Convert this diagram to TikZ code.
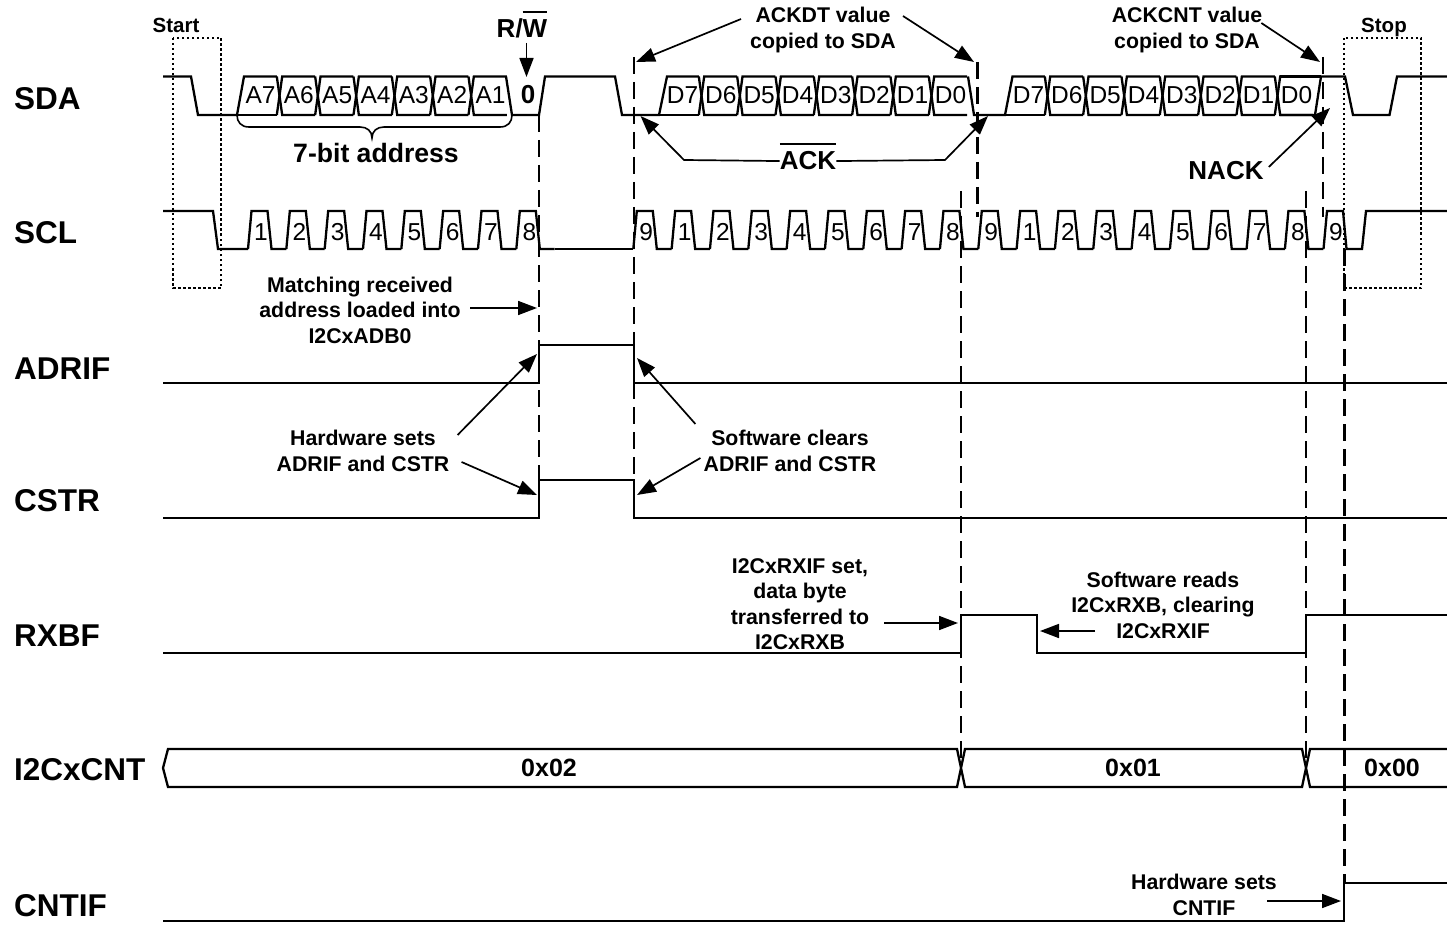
\documentclass[tikz,border=0pt]{standalone}
\usepackage{fontspec}
\setmainfont{Liberation Sans}
\usetikzlibrary{arrows.meta,calc}
\newcommand{\barred}[1]{\setbox0=\hbox{#1}\rlap{\smash{\raise0.97em\hbox{\rule{\wd0}{1.6pt}}}}\box0}

\begin{document}
\begin{tikzpicture}[
    x=1pt,y=-1pt,
    wave/.style={line width=2.3pt,black,line join=miter},
    guide/.style={line width=2.2pt,black,dash pattern=on 17pt off 8pt},
    window/.style={line width=1.6pt,black,dash pattern=on 2.5pt off 2.5pt},
    arrow/.style={-{Triangle[length=19pt,width=14pt]},line width=1.7pt,black},
    signal/.style={font=\fontsize{31.5}{32}\selectfont\bfseries,anchor=west,inner sep=0pt},
    tag/.style={font=\fontsize{20.5}{25.5}\selectfont\bfseries,inner sep=0pt},
    note/.style={font=\fontsize{21.3}{25.5}\selectfont\bfseries,align=center,inner sep=0pt},
    big/.style={font=\fontsize{26}{28}\selectfont\bfseries,inner sep=0pt},
    value/.style={font=\fontsize{25}{26}\selectfont\bfseries,inner sep=0pt},
    bit/.style={font=\fontsize{24.5}{25}\selectfont,inner sep=0pt},
]
\useasboundingbox (0,0) rectangle (1447,925);

% === SIGNAL NAMES ===
\node[signal] (sda) at (14,99) {SDA};
\node[signal] (scl) at (14,233) {SCL};
\node[signal] (adrif) at (14,369) {ADRIF};
\node[signal] (cstr) at (14,501) {CSTR};
\node[signal] (rxbf) at (14,636) {RXBF};
\node[signal] (cnt) at (14,770) {I2CxCNT};
\node[signal] (cntif) at (14,906) {CNTIF};

% === START / STOP WINDOWS ===
\draw[window] (173,38) rectangle (221,288);
\draw[window] (1344,38) rectangle (1421,288);
\node[tag] (start) at (176,25) {Start};
\node[tag] (stop) at (1384,27) {Stop};

% === SDA ===
\draw[wave] (163,76.5) -- (191,76.5) -- (198,115) -- (237,115) -- (244,76.5) -- (276.8,76.5);
\draw[wave] (237,115) -- (276.8,115);
\foreach \n [count=\k from 0] in {7,6,5,4,3,2} {
    \pgfmathsetmacro{\c}{279.5+38.33*\k}
    \draw[wave] (\c-2.7,76.5) -- (\c+2.7,115) -- (\c+35.6,115);
    \draw[wave] (\c-2.7,115) -- (\c+2.7,76.5) -- (\c+35.6,76.5);
    \node[bit] (a\n) at (\c-19,95) {A\n};
}
\node[bit] (a1) at (490.5,95) {A1};
\draw[wave] (506,76.5) -- (512,115) -- (539,115) -- (545,76.5) -- (615,76.5) -- (622,115) -- (659,115) -- (667,76.5) -- (698.8,76.5);
\draw[wave] (659,115) -- (698.8,115);
\foreach \n [count=\k from 0] in {7,6,5,4,3,2,1} {
    \pgfmathsetmacro{\c}{701.5+38.33*\k}
    \draw[wave] (\c-2.7,76.5) -- (\c+2.7,115) -- (\c+35.6,115);
    \draw[wave] (\c-2.7,115) -- (\c+2.7,76.5) -- (\c+35.6,76.5);
    \node[bit] (d\n) at (\c-19,95) {D\n};
}
\node[bit] (d0) at (950.5,95) {D0};
\draw[wave] (968,76.5) -- (974,115) -- (1005,115) -- (1012.5,76.5) -- (1044.8,76.5);
\draw[wave] (1005,115) -- (1044.8,115);
\foreach \n [count=\k from 0] in {7,6,5,4,3,2,1} {
    \pgfmathsetmacro{\c}{1047.5+38.33*\k}
    \draw[wave] (\c-2.7,76.5) -- (\c+2.7,115) -- (\c+35.6,115);
    \draw[wave] (\c-2.7,115) -- (\c+2.7,76.5) -- (\c+35.6,76.5);
    \node[bit] (e\n) at (\c-19,95) {D\n};
}
\node[bit] (e0) at (1296.5,95) {D0};
\draw[wave] (1280.2,115) -- (1315,115) -- (1321,76.5) -- (1345,76.5) -- (1353,115) -- (1389.5,115) -- (1397,76.5) -- (1447,76.5);
\draw[wave] (1280.2,76.5) -- (1321,76.5);

% === SCL ===
\draw[wave] (163,211) -- (213,211) -- (218,249) -- (248,249);
\foreach \n [count=\k from 0] in {1,2,3,4,5,6,7,8} {
    \pgfmathsetmacro{\x}{248+38.33*\k}
    \draw[wave] (\x,249) -- (\x+3.5,211) -- (\x+19.5,211) -- (\x+23.5,249) -- (\x+38.33,249);
    \node[bit] (p\k) at (\x+13,232) {\n};
}
\draw[wave] (555,249) -- (633.3,249);
\foreach \n [count=\k from 0] in {9,1,2,3,4,5,6,7,8,9,1,2,3,4,5,6,7,8} {
    \pgfmathsetmacro{\x}{633.3+38.33*\k}
    \draw[wave] (\x,249) -- (\x+3.5,211) -- (\x+19.5,211) -- (\x+23.5,249) -- (\x+38.33,249);
    \node[bit] (q\k) at (\x+13,232) {\n};
}
\draw[wave] (1323.5,249) -- (1327,211) -- (1343,211) -- (1346.5,249) -- (1362,249) -- (1366,211) -- (1447,211);
\node[bit] (nine) at (1336,232) {9};

% === FLAGS ===
\draw[wave] (163,383) -- (539,383) -- (539,345) -- (634,345) -- (634,383) -- (1447,383);
\draw[wave] (163,518) -- (539,518) -- (539,480) -- (634,480) -- (634,518) -- (1447,518);
\draw[wave] (163,653) -- (961,653) -- (961,615) -- (1037,615) -- (1037,653) -- (1306,653) -- (1306,615) -- (1447,615);
\draw[wave] (163,921) -- (1344,921) -- (1344,883) -- (1447,883);

% === I2CxCNT ===
\draw[wave] (1447,749) -- (1310,749) -- (1302,787) -- (965,787) -- (957,749) -- (168,749) -- (163,768) -- (168,787) -- (957,787) -- (965,749) -- (1302,749) -- (1310,787) -- (1447,787);
\node[value] (v02) at (549,768) {0x02};
\node[value] (v01) at (1133,768) {0x01};
\node[value] (v00) at (1392,768) {0x00};

% === GUIDES ===
\draw[guide] (539,115) -- (539,480);
\draw[guide] (634,57) -- (634,480);
\draw[guide] (977.5,62) -- (977.5,217);
\draw[guide] (961,191) -- (961,768);
\draw[guide] (1306,191) -- (1306,768);
\draw[guide] (1323,57) -- (1323,217);
\draw[guide] (1344.5,249) -- (1344.5,883);

% === SDA ANNOTATIONS ===
\node[big,anchor=base] (rw) at (522,38) {R/\barred{W}};
\node[big] (zero) at (528,95) {0};
\coordinate (rwTip) at (526.5,77);
\draw[arrow] (526.5,43) -- (rwTip);

\draw[wave,line width=1.6pt] (237,115) .. controls (237,122) and (241,127) .. (249,127) -- (360,127) .. controls (367,127) and (372,131) .. (372,138) .. controls (372,131) and (377,127) .. (384,127) -- (500,127) .. controls (508,127) and (512,122) .. (512,115);
\node[big,font=\fontsize{26.6}{28}\selectfont\bfseries] (addr) at (376,153) {7-bit address};

\node[note] (ackdt) at (823,30) {ACKDT value\\copied to SDA};
\draw[arrow] ($(ackdt.west)+(-9,-11)$) -- (636,62);
\draw[arrow] ($(ackdt.east)+(7,-14)$) -- (974,62);

\node[note] (ackcnt) at (1187,30) {ACKCNT value\\copied to SDA};
\draw[arrow] ($(ackcnt.east)+(-1,-7)$) -- (1320,62);

\node[big,anchor=base] (ack) at (808,170) {\barred{ACK}};
\coordinate (ackLeft) at (684,160);
\coordinate (ackRight) at (945,160);
\draw[arrow] (ack.west) -- (ackLeft) -- (640.5,116);
\draw[arrow] (ack.east) -- (ackRight) -- (988,116);

\node[big] (nack) at (1226,171) {NACK};
\draw[arrow] ($(nack.east)+(5,-4)$) -- (1330,108);

% === FLAG ANNOTATIONS ===
\node[note] (match) at (360,310) {Matching received\\address loaded into\\I2CxADB0};
\draw[arrow] (470,308) -- (537,308);

\node[note] (hwsets) at (363,451) {Hardware sets\\ADRIF and CSTR};
\draw[arrow] ($(hwsets.east)+(8,-16)$) -- (537,354);
\draw[arrow] ($(hwsets.east)+(12,11)$) -- (537,495);

\node[note] (swclr) at (790,451) {Software clears\\ADRIF and CSTR};
\draw[arrow] ($(swclr.west)+(-8,-27)$) -- (637,358);
\draw[arrow] ($(swclr.west)+(-3,7)$) -- (637,495);

\node[note] (rxif) at (800,604) {I2CxRXIF set,\\data byte\\transferred to\\I2CxRXB};
\draw[arrow] (884,623) -- (958,623);

\node[note] (swrd) at (1163,605) {Software reads\\I2CxRXB, clearing\\I2CxRXIF};
\draw[arrow] (1095,631) -- (1040,631);

\node[note] (hwcnt) at (1204,895) {Hardware sets\\CNTIF};
\draw[arrow] (1267,901) -- (1341,901);

\end{tikzpicture}
\end{document}
